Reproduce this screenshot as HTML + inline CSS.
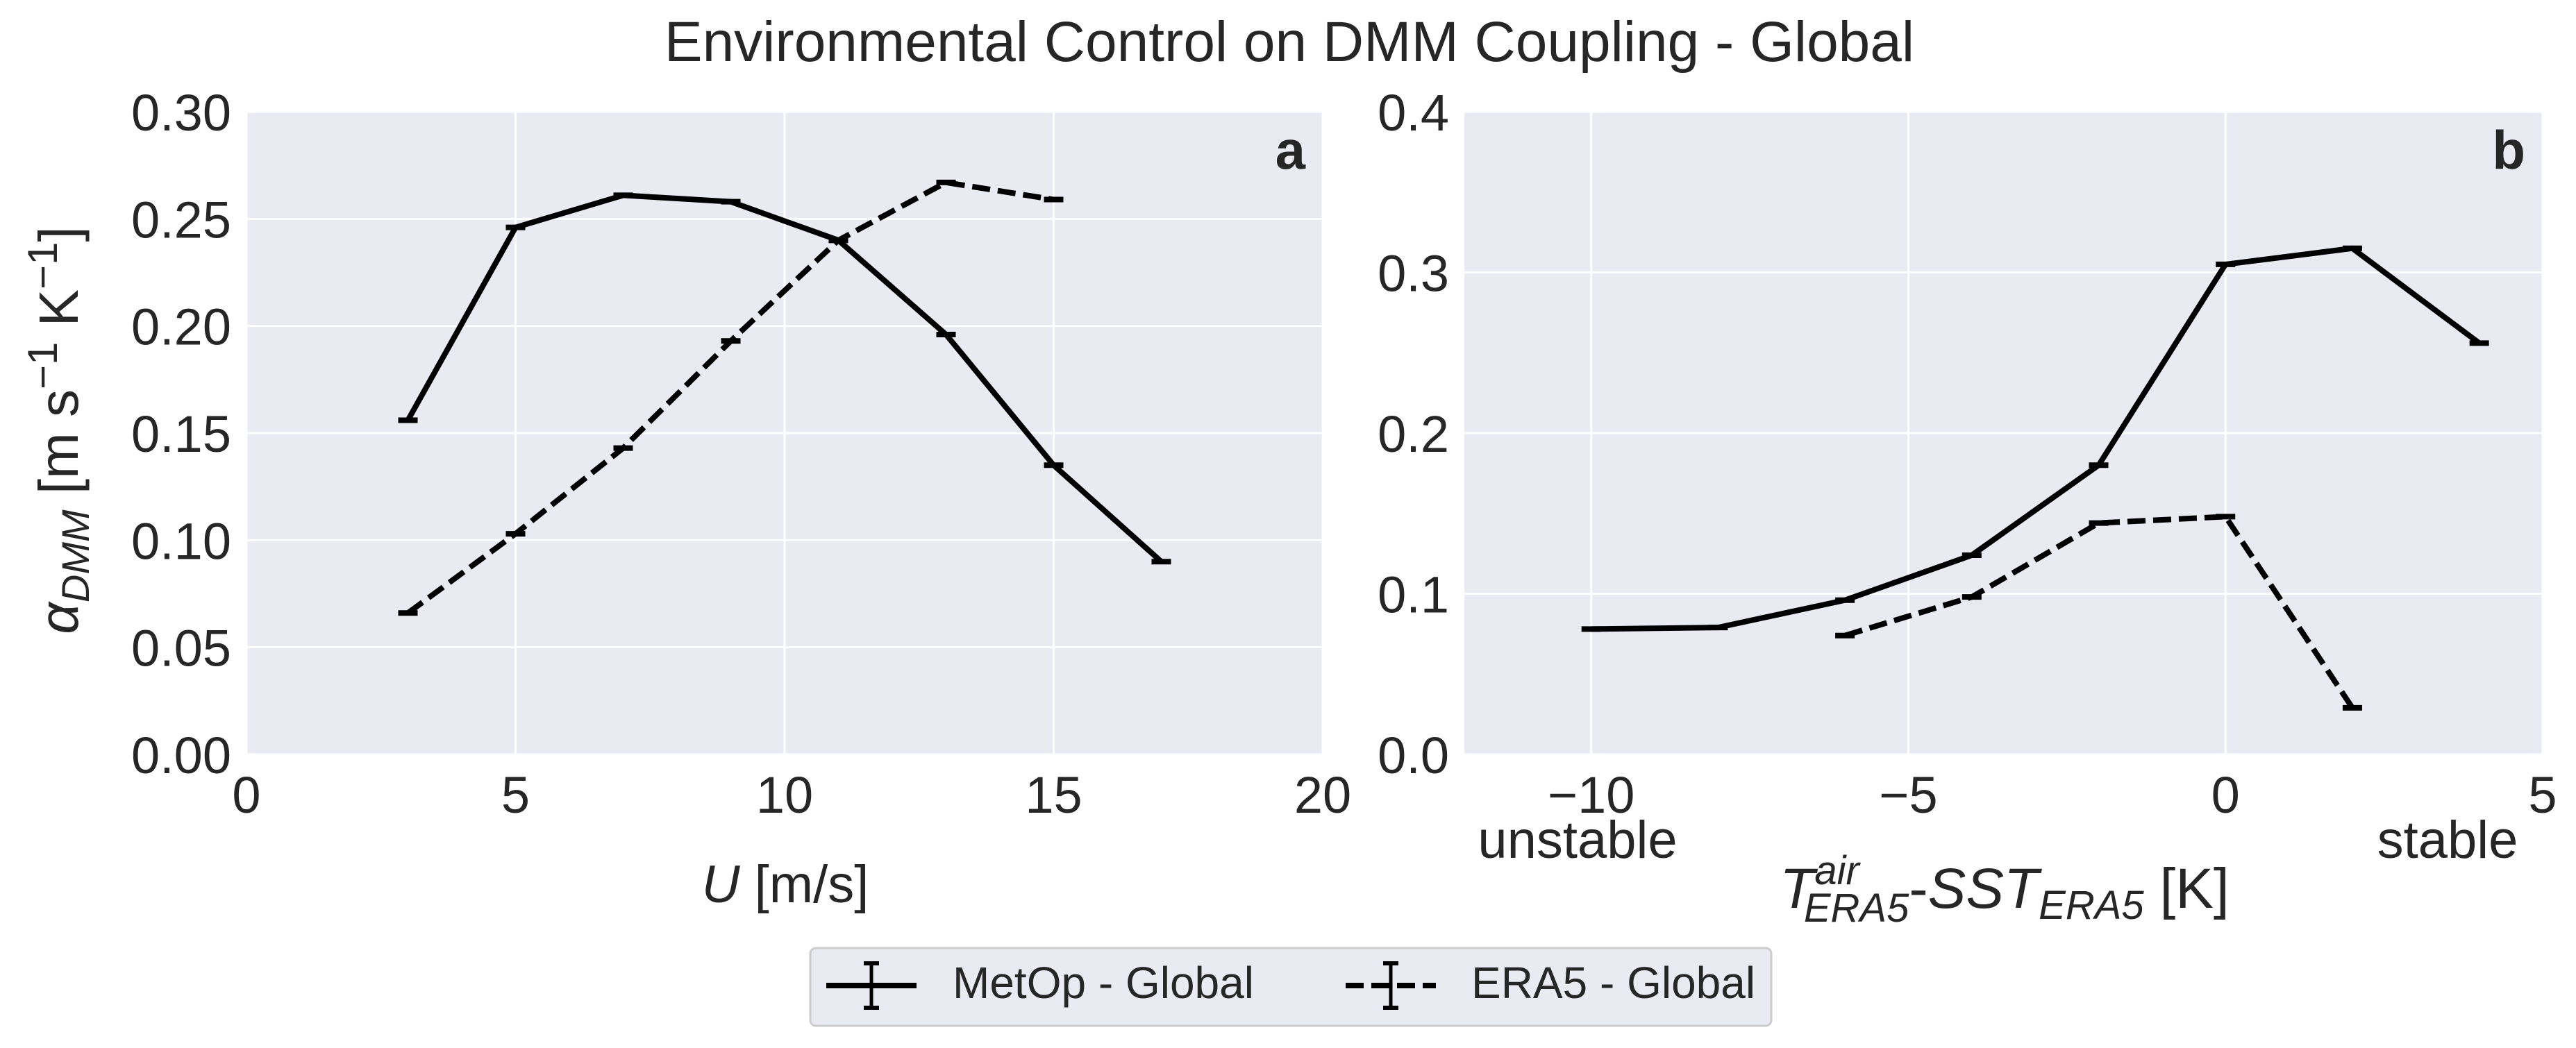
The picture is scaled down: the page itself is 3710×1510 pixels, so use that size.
<!DOCTYPE html>
<html><head><meta charset="utf-8"><style>
html,body{margin:0;padding:0;background:#fff;}
svg{display:block;font-family:"Liberation Sans","DejaVu Sans",sans-serif;}
</style></head><body>
<svg id="fig" width="3710" height="1510" viewBox="0 0 3710 1510">
<text x="1857" y="88" font-size="82" text-anchor="middle" fill="#262626">Environmental Control on DMM Coupling - Global</text>
<g id="pa"></g>
<g id="pb"></g>
<g>
<rect x="1167" y="1366" width="1384" height="112" rx="8" fill="#eaeaf2" stroke="#cccccc" stroke-width="3"/>
<g>
<line x1="1190" y1="1420" x2="1320" y2="1420" stroke="#000" stroke-width="8"/>
<line x1="1255" y1="1388" x2="1255" y2="1452" stroke="#000" stroke-width="5"/>
<line x1="1244" y1="1388" x2="1266" y2="1388" stroke="#000" stroke-width="6"/>
<line x1="1244" y1="1452" x2="1266" y2="1452" stroke="#000" stroke-width="6"/>
<text x="1372" y="1438" font-size="64" fill="#262626">MetOp - Global</text>
</g>
<g>
<line x1="1938" y1="1420" x2="2068" y2="1420" stroke="#000" stroke-width="8" stroke-dasharray="26 11"/>
<line x1="2003" y1="1388" x2="2003" y2="1452" stroke="#000" stroke-width="5"/>
<line x1="1992" y1="1388" x2="2014" y2="1388" stroke="#000" stroke-width="6"/>
<line x1="1992" y1="1452" x2="2014" y2="1452" stroke="#000" stroke-width="6"/>
<text x="2119" y="1438" font-size="64" fill="#262626">ERA5 - Global</text>
</g>
</g>
</svg>
<script>
const aX=[3,5,7,9,11,13,15,17];
const aMetop=[0.156,0.246,0.261,0.258,0.240,0.196,0.135,0.090];
const aEraX=[3,5,7,9,11,13,15];
const aEra=[0.066,0.103,0.143,0.193,0.240,0.267,0.259];
const aXTicks=[0,5,10,15,20];
const aYTicks=[0,0.05,0.10,0.15,0.20,0.25,0.30];
const aYLabels=["0.00","0.05","0.10","0.15","0.20","0.25","0.30"];
const bX=[-10,-8,-6,-4,-2,0,2,4];
const bMetop=[0.078,0.079,0.096,0.124,0.180,0.305,0.315,0.256];
const bEraX=[-6,-4,-2,0,2];
const bEra=[0.074,0.098,0.144,0.148,0.029];
const bXTicks=[-10,-5,0,5];
const bXLabels=["\u221210","\u22125","0","5"];
const bYTicks=[0,0.1,0.2,0.3,0.4];
const bYLabels=["0.0","0.1","0.2","0.3","0.4"];
const NS="http://www.w3.org/2000/svg";
function mk(p,t,a){const e=document.createElementNS(NS,t);for(const k in a)e.setAttribute(k,a[k]);p.appendChild(e);return e;}
function panel(g,L,R,T,B,xmin,xmax,ymin,ymax,xt,xl,yt,yl,series,letter){
  const sx=v=>L+(v-xmin)/(xmax-xmin)*(R-L), sy=v=>B-(v-ymin)/(ymax-ymin)*(B-T);
  const bg=mk(g,'rect',{x:L,y:T,width:R-L,height:B-T,fill:'#eaeaf2'});
  
  
  xt.forEach((v,i)=>{
    const ln=mk(g,'line',{x1:sx(v),x2:sx(v),y1:T,y2:B,stroke:'#fff','stroke-width':3});
    
    
    const t=mk(g,'text',{x:sx(v),y:B+84,'font-size':74,'text-anchor':'middle',fill:'#262626'});
    t.textContent=xl[i];
    
    
  });
  yt.forEach((v,i)=>{
    const ln=mk(g,'line',{x1:L,x2:R,y1:sy(v),y2:sy(v),stroke:'#fff','stroke-width':3});
    
    
    const t=mk(g,'text',{x:L-22,y:sy(v)+27,'font-size':74,'text-anchor':'end',fill:'#262626'});
    t.textContent=yl[i];
    
    
  });
  series.forEach(s=>{
    const pts=s.x.map((v,i)=>sx(v)+','+sy(s.y[i])).join(' ');
    const pl=mk(g,'polyline',{points:pts,fill:'none',stroke:'#000','stroke-width':8,'stroke-linejoin':'round','stroke-dasharray':s.dash||'none'});
    
    
    s.x.forEach((v,i)=>{
      const eb=mk(g,'line',{x1:sx(v)-14,x2:sx(v)+14,y1:sy(s.y[i]),y2:sy(s.y[i]),stroke:'#000','stroke-width':8});
      
      
    });
  });
  const lt=mk(g,'text',{x:R-25,y:T+82,'font-size':78,'font-weight':'bold','text-anchor':'end',fill:'#262626'});
  lt.textContent=letter;
  
  
}
const pa=document.getElementById('pa'), pb=document.getElementById('pb');
panel(pa,355,1905,161,1087,0,20,0,0.30,aXTicks,aXTicks.map(String),aYTicks,aYLabels,
 [{x:aX,y:aMetop,name:'metop-line-a'},{x:aEraX,y:aEra,name:'era5-line-a',dash:'26 11'}],'a');
panel(pb,2109,3662,161,1087,-12,5,0,0.4,bXTicks,bXLabels,bYTicks,bYLabels,
 [{x:bX,y:bMetop,name:'metop-line-b'},{x:bEraX,y:bEra,name:'era5-line-b',dash:'26 11'}],'b');
function txt(p,x,y,html,attrs,name){const t=mk(p,'text',Object.assign({x:x,y:y,'font-size':76,fill:'#262626','text-anchor':'middle'},attrs||{}));t.innerHTML=html;return t;}
txt(pa,1131,1300,'<tspan font-style="italic">U</tspan> [m/s]',{},'x-axis-title-a');
txt(pa,0,0,'<tspan font-style="italic">α</tspan><tspan font-style="italic" font-size="56" dy="16">DMM</tspan><tspan dy="-16"> [m s</tspan><tspan font-size="60" dy="-30">−1</tspan><tspan dy="30"> K</tspan><tspan font-size="60" dy="-30">−1</tspan><tspan dy="30">]</tspan>',{transform:'translate(112,620) rotate(-90)','font-size':80},'y-axis-title');
txt(pb,2272,1236,'unstable',{'font-size':76},'unstable-label');
txt(pb,3525,1236,'stable',{'font-size':76},'stable-label');
txt(pb,2887,1308,'<tspan font-style="italic">T</tspan><tspan font-style="italic" font-size="58" dy="-34">air</tspan><tspan font-style="italic" font-size="58" dx="-80" dy="54">ERA5</tspan><tspan dy="-20">-</tspan><tspan font-style="italic">SST</tspan><tspan font-style="italic" font-size="58" dy="16">ERA5</tspan><tspan dy="-16"> [K]</tspan>',{'font-size':82},'x-axis-title-b');
</script>
</body></html>
